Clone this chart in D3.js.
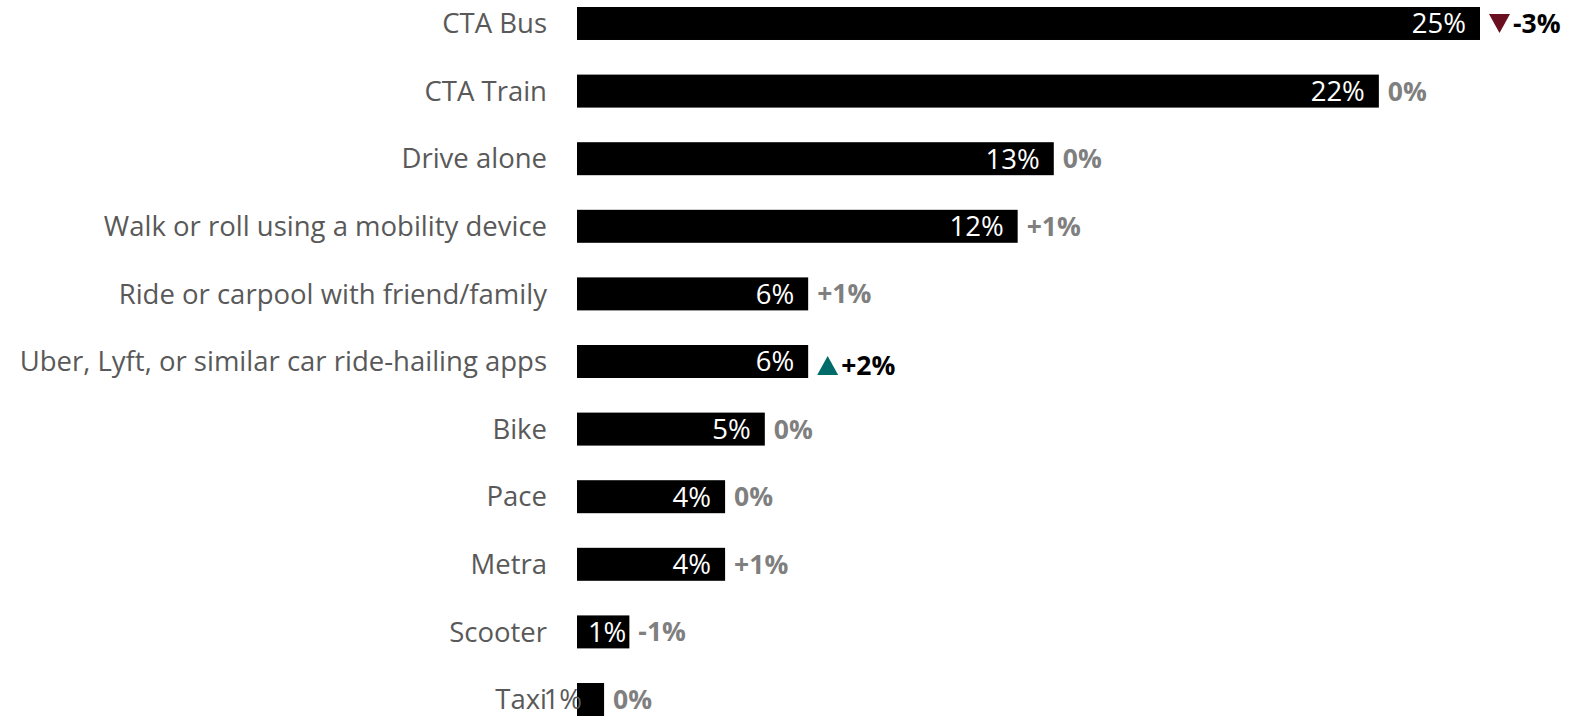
<!DOCTYPE html>
<html>
<head>
<meta charset="utf-8">
<script src="https://cdn.jsdelivr.net/npm/d3@7"></script>
<style>
  body { margin: 0; background: #fff; }
  text { font-family: "Open Sans", sans-serif; }
</style>
</head>
<body>
<div id="chart"></div>
<script>
// chart data
var modes = ["CTA Bus", "CTA Train", "Drive alone", "Walk or roll using a mobility device",
    "Ride or carpool with friend/family", "Uber, Lyft, or similar car ride-hailing apps",
    "Bike", "Pace", "Metra", "Scooter", "Taxi"];
var shares = [25.0, 22.2, 13.2, 12.2, 6.4, 6.4, 5.2, 4.1, 4.1, 1.45, 0.75];
var changes = ["-3%", "0%", "0%", "+1%", "+1%", "+2%", "0%", "0%", "+1%", "-1%", "0%"];
// significant change: "down", "up" or ""
var signif = ["down", "", "", "", "", "up", "", "", "", "", ""];

var width = 1575, height = 717;
var left = 577;

var svg = d3.select("#chart")
    .append("svg")
    .attr("width", width)
    .attr("height", height);

// scales
var x = d3.scaleLinear().domain([0, 25]).range([left, left + 903]);
var y = d3.scaleBand().domain(modes).range([7, 716]).paddingInner(0.512).paddingOuter(0).align(0);

// bars
svg.selectAll(".bar")
    .data(modes)
    .enter().append("rect")
    .attr("class", "bar")
    .attr("x", x(0))
    .attr("y", function(d) { return y(d); })
    .attr("width", function(d, i) { return x(shares[i]) - x(0); })
    .attr("height", y.bandwidth())
    .attr("fill", "#000");

// category labels
svg.selectAll(".cat")
    .data(modes)
    .enter().append("text")
    .attr("class", "cat")
    .attr("x", left - 30)
    .attr("y", function(d) { return y(d) + y.bandwidth() / 2; })
    .attr("dy", "0.35em")
    .attr("text-anchor", "end")
    .style("font-size", "27.5px")
    .style("fill", "#595959")
    .text(function(d) { return d; });

// value labels inside the bars
svg.selectAll(".val")
    .data(modes)
    .enter().append("text")
    .attr("class", "val")
    .attr("y", function(d) { return y(d) + y.bandwidth() / 2; })
    .attr("dy", "0.36em")
    .attr("text-anchor", "end")
    .style("font-size", "27.5px")
    .style("fill", "#fff")
    .text(function(d, i) { return Math.round(shares[i]) + "%"; })
    .attr("x", function(d, i) {
        var w = this.getComputedTextLength();
        var bw = x(shares[i]) - x(0);
        if (bw < w) return x(0) + 5;          // too short: spills to the left
        if (bw < w + 26) return x(shares[i]) - 3;
        return x(shares[i]) - 14;
    })
    .style("fill", function(d, i) {
        var bw = x(shares[i]) - x(0);
        return bw < this.getComputedTextLength() ? "#595959" : "#fff";
    });

// change labels with optional triangle
var tri = 21;
var chg = svg.selectAll(".chg")
    .data(modes)
    .enter().append("g")
    .attr("class", "chg")
    .attr("transform", function(d, i) {
        return "translate(" + (x(shares[i]) + 9) + "," + (y(d) + y.bandwidth() / 2) + ")";
    });

chg.filter(function(d, i) { return signif[i] !== ""; })
    .append("path")
    .attr("d", function(d) {
        var i = modes.indexOf(d);
        var h = tri * 0.9;
        if (signif[i] === "down") return "M0," + (-h / 2) + "L" + tri + "," + (-h / 2) + "L" + (tri / 2) + "," + (h / 2) + "Z";
        return "M0," + (h / 2 + 4) + "L" + tri + "," + (h / 2 + 4) + "L" + (tri / 2) + "," + (-h / 2 + 4) + "Z";
    })
    .attr("fill", function(d) { return signif[modes.indexOf(d)] === "down" ? "#6a0f1f" : "#006b68"; });

chg.append("text")
    .attr("x", function(d) { return signif[modes.indexOf(d)] !== "" ? tri + 3 : 0; })
    .attr("dy", function(d) { return signif[modes.indexOf(d)] === "up" ? "0.5em" : "0.36em"; })
    .style("font-size", "26.5px")
    .style("font-weight", "bold")
    .style("fill", function(d) { return signif[modes.indexOf(d)] !== "" ? "#000" : "#7f7f7f"; })
    .text(function(d) { return changes[modes.indexOf(d)]; });
</script>
</body>
</html>
